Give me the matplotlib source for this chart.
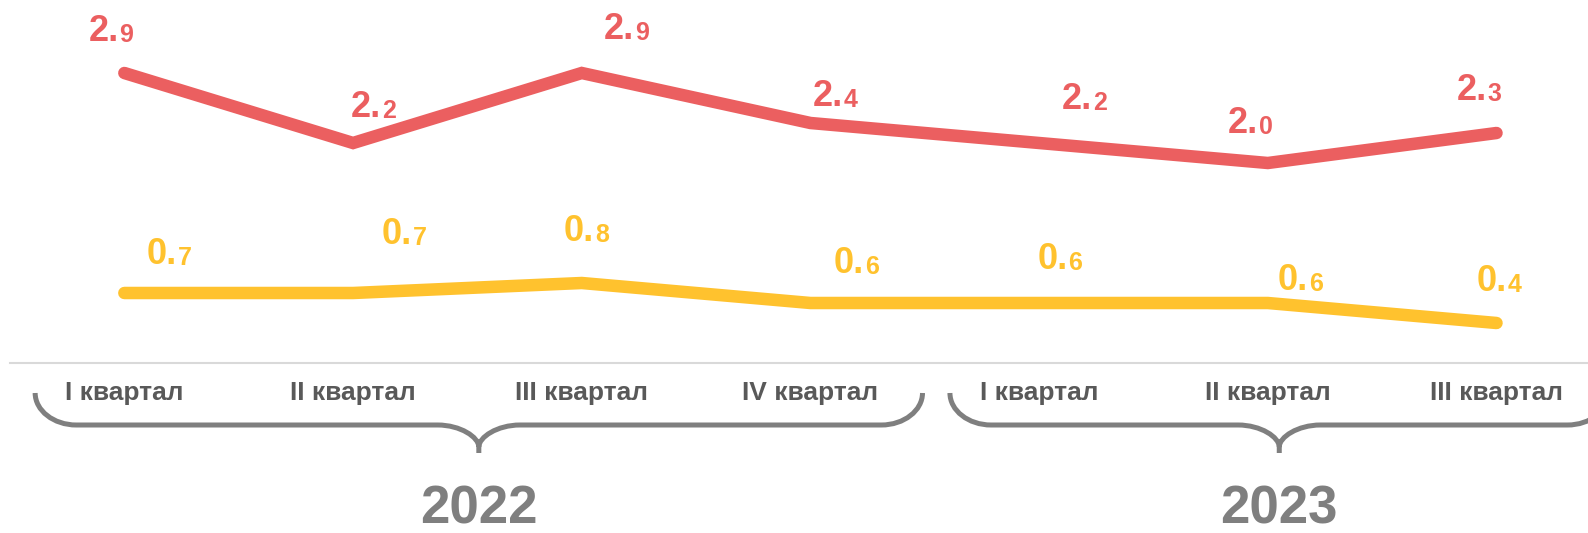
import matplotlib
matplotlib.use("Agg")
import matplotlib.pyplot as plt
from matplotlib.path import Path
from matplotlib.patches import PathPatch

plt.rcParams['font.family'] = ['Liberation Sans', 'DejaVu Sans']

# data
quarters = ['I квартал', 'II квартал', 'III квартал', 'IV квартал',
            'I квартал', 'II квартал', 'III квартал']
red_vals = [2.9, 2.2, 2.9, 2.4, 2.2, 2.0, 2.3]
yellow_vals = [0.7, 0.7, 0.8, 0.6, 0.6, 0.6, 0.4]
years = ['2022', '2023']
year_groups = [(0, 3), (4, 6)]

# label placement (pixels: left edge, baseline relative to point)
red_off = [(-36, 32), (-2, 26), (22, 34), (2, 17), (23, 34), (-40, 30), (-40, 33)]
yellow_off = [(22, 29), (29, 49), (-18, 42), (23, 30), (-2, 34), (10, 13), (-20, 32)]

RED = '#EB5F60'
YELLOW = '#FFC22E'
GREY = '#7F7F7F'

fig = plt.figure(figsize=(15.88, 5.33), dpi=100)
ax = fig.add_axes([10 / 1588, 170 / 533, 1578 / 1588, 363 / 533])
ax.set_xlim(-0.5, 6.4)
ax.set_ylim(0, 3.63)

x = list(range(len(quarters)))
ax.plot(x, red_vals, color=RED, lw=9, solid_capstyle='round', solid_joinstyle='miter', clip_on=False)
ax.plot(x, yellow_vals, color=YELLOW, lw=9, solid_capstyle='round', solid_joinstyle='miter', clip_on=False)


def value_label(i, v, off, color):
    s = f'{v:.1f}'
    big = ax.annotate(s[:2], xy=(i, v), xytext=off, textcoords='offset pixels',
                      ha='left', va='baseline', fontsize=26, fontweight='bold', color=color)
    ax.annotate(s[2:], xy=(1, 0), xycoords=big, xytext=(1, 2), textcoords='offset pixels',
                ha='left', va='bottom', fontsize=18, fontweight='bold', color=color)


for i in x:
    value_label(i, red_vals[i], red_off[i], RED)
    value_label(i, yellow_vals[i], yellow_off[i], YELLOW)

for s in ['top', 'right', 'left']:
    ax.spines[s].set_visible(False)
ax.spines['bottom'].set_color('#D9D9D9')
ax.spines['bottom'].set_linewidth(1.5)
ax.set_yticks([])
ax.set_xticks(x)
ax.set_xticklabels(quarters, fontsize=19, fontweight='bold', color='#595959')
ax.tick_params(axis='x', length=0, pad=13)


# curly braces under each year
def brace(x0, x1, yT=-0.30, yB=-0.62, yP=-0.90, r=0.18):
    xm = (x0 + x1) / 2
    k = 0.55
    verts, codes = [], []
    # left half
    verts += [(x0, yT), (x0, yT + k * (yB - yT)), (x0 + (1 - k) * r, yB), (x0 + r, yB),
              (xm - r, yB), (xm - (1 - k) * r, yB), (xm, yB - k * 0.22), (xm, yB - 0.22), (xm, yP)]
    codes += [Path.MOVETO, Path.CURVE4, Path.CURVE4, Path.CURVE4,
              Path.LINETO, Path.CURVE4, Path.CURVE4, Path.CURVE4, Path.LINETO]
    # right half
    verts += [(x1, yT), (x1, yT + k * (yB - yT)), (x1 - (1 - k) * r, yB), (x1 - r, yB),
              (xm + r, yB), (xm + (1 - k) * r, yB), (xm, yB - k * 0.22), (xm, yB - 0.22)]
    codes += [Path.MOVETO, Path.CURVE4, Path.CURVE4, Path.CURVE4,
              Path.LINETO, Path.CURVE4, Path.CURVE4, Path.CURVE4]
    ax.add_patch(PathPatch(Path(verts, codes), fill=False, edgecolor=GREY, lw=3.6, clip_on=False))
    return xm


for name, (a, b) in zip(years, year_groups):
    xm = brace(a - 0.39, b + 0.49)
    ax.text(xm, -1.60, name, ha='center', va='baseline', fontsize=38,
            fontweight='bold', color=GREY, clip_on=False)

fig.savefig('out.png', dpi=100)
